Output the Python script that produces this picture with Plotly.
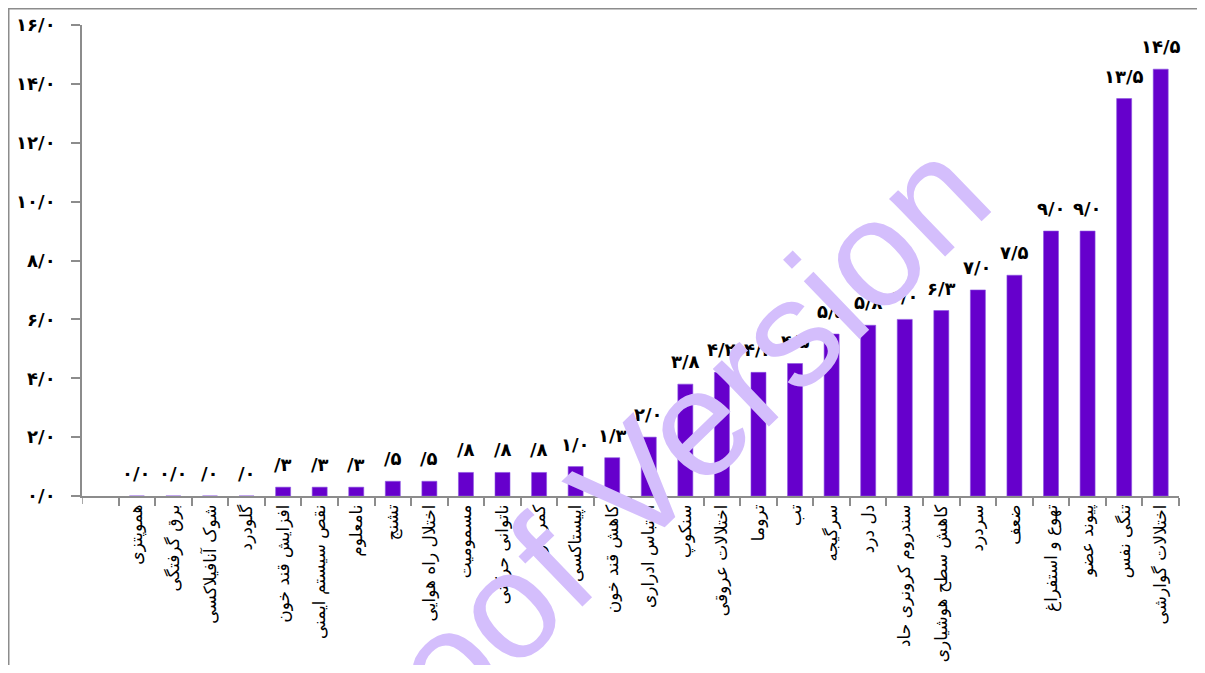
import plotly.graph_objects as go

categories = ["هموپتزی", "برق گرفتگی", "شوک آنافیلاکسی", "گلودرد", "افزایش قند خون",
              "نقص سیستم ایمنی", "نامعلوم", "تشنج", "اختلال راه هوایی", "مسمومیت",
              "ناتوانی حرکتی", "کمر درد", "اپیستاکسی", "کاهش قند خون", "احتباس ادراری",
              "سنکوپ", "اختلالات عروقی", "تروما", "تب", "سرگیجه", "دل درد",
              "سندروم کرونری حاد", "کاهش سطح هوشیاری", "سردرد", "ضعف", "تهوع و استفراغ",
              "پیوند عضو", "تنگی نفس", "اختلالات گوارشی"]
values = [0.0, 0.0, 0.0, 0.0, 0.3, 0.3, 0.3, 0.5, 0.5, 0.8, 0.8, 0.8, 1.0, 1.3, 2.0,
          3.8, 4.2, 4.2, 4.5, 5.5, 5.8, 6.0, 6.3, 7.0, 7.5, 9.0, 9.0, 13.5, 14.5]
value_labels = ["۰/۰", "۰/۰", "/۰", "/۰", "/۳", "/۳", "/۳", "/۵", "/۵", "/۸", "/۸", "/۸",
                "۱/۰", "۱/۳", "۲/۰", "۳/۸", "۴/۲", "۴/۲", "۴/۵", "۵/۵", "۵/۸", "۶/۰",
                "۶/۳", "۷/۰", "۷/۵", "۹/۰", "۹/۰", "۱۳/۵", "۱۴/۵"]
y_tickvals = [0, 2, 4, 6, 8, 10, 12, 14, 16]
y_ticktext = ["<b>۰/۰</b>", "<b>۲/۰</b>", "<b>۴/۰</b>", "<b>۶/۰</b>", "<b>۸/۰</b>",
              "<b>۱۰/۰</b>", "<b>۱۲/۰</b>", "<b>۱۴/۰</b>", "<b>۱۶/۰</b>"]

# page has an 8px body margin; figure is sized to fit inside the window
W, H = 1189, 657
L, R, T, B = 74, 18, 17, 169
pw, ph = W - L - R, H - T - B

fig = go.Figure()
fig.add_trace(go.Bar(
    x=categories, y=values,
    marker=dict(color="#6600CC", line=dict(color="#8C55E0", width=0.6)),
    width=0.41,
    hoverinfo="skip",
))

annotations = []
for c, v, t in zip(categories, values, value_labels):
    annotations.append(dict(
        x=c, y=v, xref="x", yref="y", text="<b>" + t + "</b>", showarrow=False,
        yanchor="bottom", xanchor="center", yshift=10,
        font=dict(family="DejaVu Sans", size=18, color="#000000"),
    ))

# watermark
annotations.append(dict(
    x=(625 - L) / pw, y=(H - B - 476) / ph, xref="paper", yref="paper",
    text="Proof Version", showarrow=False, textangle=-44,
    xanchor="center", yanchor="middle",
    font=dict(family="Liberation Sans", size=152, color="#D4BEFC"),
))

shapes = [
    # outer chart border (cropped)
    dict(type="rect", xref="paper", yref="paper",
         x0=(0.75 - L) / pw, x1=(W + 10 - L) / pw,
         y0=-(H + 10 - (H - B)) / ph, y1=1 + (T - 0.75) / ph,
         line=dict(color="#8C8C8C", width=1.5), layer="below"),
    # tick at axis start
    dict(type="line", xref="x", yref="paper", x0=-1.5, x1=-1.5,
         y0=0, y1=-8 / ph, line=dict(color="#8C8C8C", width=1.5)),
]

fig.update_layout(
    width=W, height=H,
    margin=dict(l=L, r=R, t=T, b=B, autoexpand=False),
    paper_bgcolor="white", plot_bgcolor="white",
    showlegend=False,
    annotations=annotations,
    shapes=shapes,
    bargap=0.59,
)
fig.update_xaxes(
    type="category", range=[-1.5, 28.5], automargin=False,
    showline=True, linecolor="#8C8C8C", linewidth=1.5,
    ticks="outside", tickson="boundaries", ticklen=8, tickcolor="#8C8C8C", tickwidth=1.5,
    tickangle=-90, showgrid=False,
    tickfont=dict(family="DejaVu Sans", size=17, color="#000000"),
)
fig.update_yaxes(
    range=[0, 16], tickvals=y_tickvals, ticktext=y_ticktext, automargin=False,
    showline=True, linecolor="#8C8C8C", linewidth=1.5,
    ticks="outside", ticklen=9, tickcolor="#8C8C8C", tickwidth=1.5,
    showgrid=False, zeroline=False, ticklabelstandoff=12,
    tickfont=dict(family="DejaVu Sans", size=18, color="#000000"),
)

fig.write_html("out.html")
